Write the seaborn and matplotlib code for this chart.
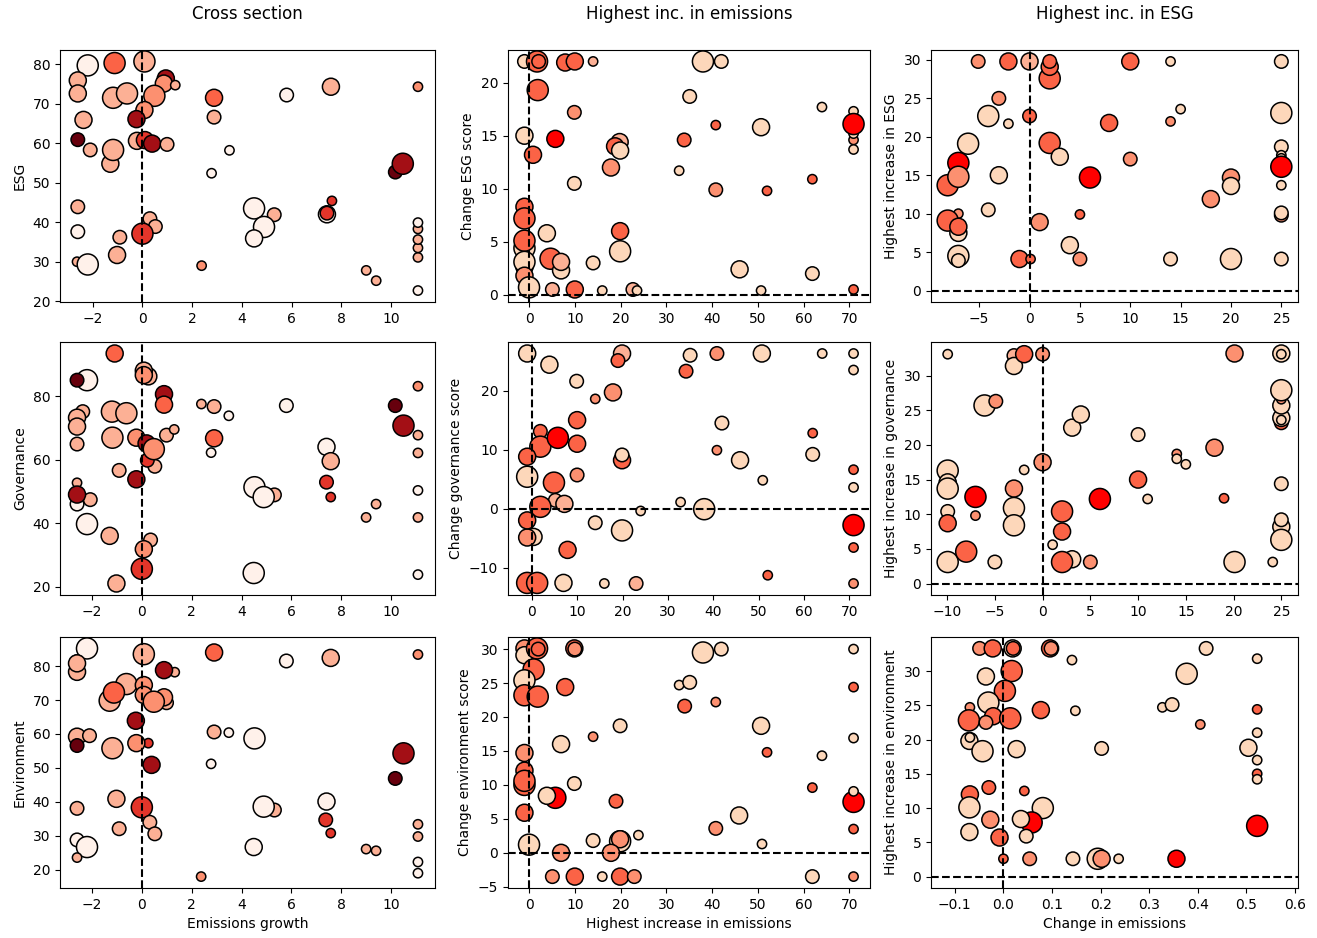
import matplotlib
matplotlib.use("Agg")
import matplotlib.pyplot as plt
from matplotlib.ticker import MultipleLocator
import pandas as pd
import seaborn as sns

COL_TITLES = ["Cross section", "Highest inc. in emissions", "Highest inc. in ESG"]
X_LABELS = ["Emissions growth", "Highest increase in emissions", "Change in emissions"]
Y_LABELS = [
    ["ESG", "Change ESG score", "Highest increase in ESG"],
    ["Governance", "Change governance score", "Highest increase in governance"],
    ["Environment", "Change environment score", "Highest increase in environment"],
]

# shade / size codes
SHADES = {"0": "#fff1ea", "1": "#fdd7ba", "2": "#fcb095", "3": "#fc9070", "4": "#fb6346",
          "5": "#e3352a", "6": "#ff0000", "7": "#a30f15", "8": "#67000d"}
SIZES = {"1": 45, "2": 95, "3": 150, "4": 230}

# --- cross section: ESG ---
cs_esg_x = [-2.2, -1.12, 0.08, -2.6, -2.6, -2.6, -1.18, -0.62, 0.94, 0.86, 1.32, 0.48, 0.08, -0.24,
            2.88, 2.88, -2.37, -2.6, -2.1, -1.29, -1.18, -0.22, 0.1, 0.39, 0.99, 3.5, 2.78, 5.8,
            7.58, 11.08, 10.17, 10.47, -2.6, -2.6, -2.63, -2.2, -0.91, -1.02, 0.3, 0.52, 0.0, 2.38,
            4.49, 5.3, 4.89, 4.49, 7.42, 7.42, 7.62, 9.0, 9.4, 11.08, 11.08, 11.08, 11.08, 11.08, 11.08]
cs_esg_y = [79.7, 80.3, 80.7, 75.2, 75.9, 72.6, 71.5, 72.6, 76.4, 75.1, 74.7, 72.0, 68.4, 66.1,
            71.5, 66.6, 65.9, 60.9, 58.3, 54.8, 58.3, 60.6, 60.8, 59.9, 59.7, 58.2, 52.4, 72.2,
            74.3, 74.3, 52.7, 54.8, 43.9, 37.6, 30.0, 29.3, 36.2, 31.7, 40.9, 38.9, 37.1, 29.0,
            43.5, 41.9, 38.8, 35.9, 42.0, 42.3, 45.4, 27.8, 25.2, 31.1, 33.5, 35.6, 38.3, 39.9, 22.7]
cs_esg_size = [4, 4, 4, 2, 3, 3, 4, 4, 3, 3, 1, 4, 3, 3,
               3, 2, 3, 2, 2, 3, 4, 3, 3, 3, 2, 1, 1, 2,
               3, 1, 2, 4, 2, 2, 1, 4, 2, 3, 2, 2, 4, 1,
               4, 2, 4, 3, 3, 2, 1, 1, 1, 1, 1, 1, 1, 1, 1]
cs_esg_shade = [0, 4, 2, 7, 2, 2, 2, 2, 7, 3, 2, 3, 3, 7,
                4, 2, 2, 8, 2, 2, 2, 2, 5, 7, 2, 0, 0, 0,
                2, 3, 8, 7, 2, 0, 2, 0, 2, 2, 2, 2, 5, 3,
                0, 2, 0, 0, 0, 5, 5, 2, 2, 2, 2, 2, 2, 0, 0]

# --- cross section: Governance ---
cs_gov_x = [-1.09, -2.2, -2.6, 0.26, 0.08, 0.08, 0.89, 0.89, -2.37, -2.6, -2.6, -2.6, -1.2, -0.62,
            -1.18, -0.22, 0.99, 1.3, 0.19, 0.52, 0.22, 0.48, 2.39, 2.9, 3.49, 2.9, 2.78, 5.8,
            7.41, 7.58, 7.41, 7.58, 10.17, 10.5, 11.08, 11.08, 11.08, 11.08, 11.08, 11.08,
            -2.6, -2.6, -2.07, -2.6, -2.2, -1.29, -0.91, -0.22, -1.02, 0.35, 0.08, 0.0,
            5.32, 4.52, 4.89, 4.49, 9.0, 9.4]
cs_gov_y = [93.5, 85.1, 85.1, 86.3, 88.1, 86.7, 80.7, 77.4, 75.2, 73.3, 70.5, 65.0, 75.2, 74.7,
            67.0, 67.0, 67.8, 69.6, 65.2, 58.0, 59.9, 63.4, 77.6, 76.8, 73.9, 66.8, 62.3, 77.1,
            64.1, 59.6, 53.0, 48.3, 77.1, 70.8, 83.2, 67.8, 62.2, 50.4, 41.9, 23.9,
            52.8, 46.1, 47.5, 49.1, 39.8, 36.1, 56.7, 53.9, 21.1, 34.8, 31.9, 25.7,
            49.0, 51.4, 48.3, 24.4, 41.9, 46.1]
cs_gov_size = [3, 4, 2, 3, 3, 3, 3, 3, 2, 3, 3, 2, 4, 4,
               4, 3, 2, 1, 3, 2, 2, 4, 1, 2, 1, 3, 1, 2,
               3, 3, 2, 1, 2, 4, 1, 1, 1, 1, 1, 1,
               1, 2, 2, 3, 4, 3, 2, 3, 3, 2, 3, 4,
               2, 4, 4, 4, 1, 1]
cs_gov_shade = [4, 0, 8, 2, 2, 3, 7, 4, 2, 2, 2, 2, 2, 2,
                2, 3, 2, 2, 7, 2, 5, 3, 2, 2, 0, 4, 0, 0,
                0, 2, 5, 5, 8, 7, 3, 2, 2, 0, 2, 0,
                2, 0, 2, 7, 0, 2, 2, 7, 2, 2, 3, 5,
                2, 0, 0, 0, 2, 2]

# --- cross section: Environment ---
cs_env_x = [-2.2, -2.6, -2.6, -2.6, 0.08, 2.9, 5.8, 7.58, 11.08, 1.32, 0.89, -0.62, -1.29, -1.12,
            0.99, 0.89, 0.08, 0.08, 0.48, -0.24, -2.6, -2.1, -2.6, -1.18, 0.26, -0.22, 0.39,
            2.9, 3.49, 2.78, 4.52, 10.5, 10.17, -1.02, 0.0, -2.6, -0.91, 0.32, 0.52, -2.6, -2.2,
            -2.6, 5.32, 4.89, 4.49, 2.38, 7.41, 7.38, 7.58, 9.0, 9.4, 11.08, 11.08, 11.08, 11.08]
cs_env_y = [85.2, 81.3, 78.3, 80.8, 83.5, 84.0, 81.5, 82.4, 83.4, 78.2, 78.8, 74.7, 69.8, 72.2,
            69.2, 70.8, 74.4, 71.5, 69.5, 63.9, 59.2, 59.5, 56.6, 55.8, 57.3, 57.3, 50.9,
            60.6, 60.4, 51.2, 58.7, 54.3, 46.9, 40.9, 38.4, 38.1, 32.1, 34.0, 30.6, 28.8, 26.7,
            23.6, 37.6, 38.6, 26.7, 18.0, 40.1, 34.7, 30.8, 26.1, 25.6, 33.4, 29.8, 22.3, 19.0]
cs_env_size = [4, 2, 3, 3, 4, 3, 2, 3, 1, 1, 3, 4, 4, 4,
               2, 3, 3, 3, 4, 3, 3, 2, 2, 4, 1, 3, 3,
               2, 1, 1, 4, 4, 2, 3, 4, 2, 2, 2, 2, 2, 4,
               1, 2, 4, 3, 1, 3, 2, 1, 1, 1, 1, 1, 1, 1]
cs_env_shade = [0, 8, 2, 2, 2, 4, 0, 2, 3, 2, 7, 2, 2, 4,
                2, 3, 3, 3, 3, 7, 2, 2, 8, 2, 5, 3, 7,
                2, 0, 0, 0, 7, 8, 2, 5, 2, 2, 2, 2, 0, 0,
                2, 2, 0, 0, 3, 0, 5, 5, 2, 2, 2, 2, 0, 0]

# --- highest increase in emissions: change ESG ---
he_esg_x = [-1, 1.75, 2.1, 7.9, 10, 14, 38, 42, 1.9, 35.1, 9.9, 64, -1, 5.75, 0.87, 19.8, 18.8,
            19.9, 17.9, 9.9, 33.9, 32.8, 40.8, 40.8, 50.7, 52, 61.9, 70.9, 70.9, 70.9, 70.9, 70.9,
            -1, -1, -1, -1, -1, -1, -1, 0, 3.9, 4.7, 7, 7, 5.1, 10, 14, 16, 22.7, 23.6, 19.9,
            19.9, 46, 50.7, 61.9, 70.9]
he_esg_y = [22, 22, 22, 21.9, 22, 22, 22, 22, 19.3, 18.7, 17.2, 17.7, 15, 14.7, 13.2, 14.4, 14.0,
            13.6, 12.0, 10.5, 14.6, 11.7, 16.0, 9.9, 15.8, 9.8, 10.9, 17.3, 14.6, 13.7, 15.2, 16.1,
            8.3, 7.2, 4.4, 5.1, 2.6, 3.1, 1.8, 0.7, 5.8, 3.4, 2.3, 3.1, 0.5, 0.5, 3.0, 0.4, 0.5, 0.4,
            6.0, 4.1, 2.4, 0.4, 2.0, 0.5]
he_esg_size = [2, 4, 2, 3, 3, 1, 4, 2, 4, 2, 2, 1, 3, 3, 3, 3, 3,
               3, 3, 2, 2, 1, 1, 2, 3, 1, 1, 1, 1, 1, 1, 4,
               3, 4, 4, 4, 3, 4, 3, 4, 3, 4, 3, 3, 2, 3, 2, 1, 2, 1,
               3, 4, 3, 1, 2, 1]
he_esg_shade = [1, 4, 4, 4, 4, 2, 1, 1, 4, 1, 3, 1, 1, 6, 4, 2, 4,
                1, 3, 1, 4, 1, 4, 3, 1, 4, 4, 1, 3, 1, 1, 6,
                4, 4, 1, 4, 4, 1, 3, 1, 1, 4, 1, 2, 2, 4, 1, 1, 2, 1,
                4, 1, 1, 1, 1, 4]

# --- highest increase in emissions: change governance ---
he_gov_x = [-1, 3.9, 9.9, 14, 17.9, 19.9, 19, 34.9, 34, 40.8, 50.7, 64, 70.9, 70.9, 1.9, 1.9,
            5.75, 10, 10, -1, 41.9, 40.8, 19.9, 19.9, 45.9, 61.9, 61.9, -1, 4.9, 10, 50.9, 70.9,
            70.9, 5.2, 7.2, 1.9, 24, 32.8, 38, 0.4, -1, -1, 14, 19.9, 70.9, 7.9, 70.9, 52,
            -1.6, -1, 1.2, 7, 16, 23, 70.9]
he_gov_y = [26.3, 24.4, 21.6, 18.6, 19.7, 26.3, 25.1, 26.0, 23.3, 26.3, 26.3, 26.3, 26.3, 23.5,
            13.1, 10.5, 12.0, 15.0, 11.0, 8.8, 14.5, 9.9, 8.2, 9.1, 8.2, 12.8, 9.2, 5.4, 4.4, 5.7,
            4.8, 6.6, 3.6, 1.4, 0.8, 0.3, -0.4, 1.1, -0.1, -4.8, -4.9, -2.0, -2.4, -3.7, -2.8,
            -7.0, -6.6, -11.3, -12.6, -12.6, -12.6, -12.6, -12.7, -12.7, -12.7]
he_gov_size = [3, 3, 2, 1, 3, 3, 2, 2, 2, 2, 3, 1, 1, 1, 2, 4,
               4, 3, 3, 3, 2, 1, 3, 2, 3, 1, 2, 4, 4, 2, 1, 1,
               1, 2, 3, 4, 1, 1, 4, 3, 3, 3, 2, 4, 4, 3, 1, 1,
               2, 4, 4, 3, 1, 2, 1]
he_gov_shade = [1, 1, 1, 3, 3, 2, 4, 1, 4, 3, 1, 1, 1, 1, 4, 4,
                6, 4, 4, 4, 1, 3, 4, 1, 1, 4, 1, 1, 4, 3, 1, 4,
                1, 2, 2, 4, 1, 1, 1, 1, 3, 4, 1, 1, 6, 4, 4, 4,
                4, 4, 4, 1, 1, 2, 3]

# --- highest increase in emissions: change environment ---
he_env_x = [-1, -1, 1.75, 2.0, 9.9, 10, 38, 42, 70.9, 1, -1, -1, 1.9, 7.9, 32.8, 35.1, 34, 40.8,
            70.9, 19.9, 50.7, 14, 7, 70.9, 52, 64, -1, -1, -1, -1, 9.9, 61.9, 5.75, 3.9, 19,
            70.9, 70.9, -1, 45.9, 40.8, 70.9, 23.9, 14, 19.9, 19.9, 0, 50.9, 7, 17.9,
            5.1, 10, 16, 19.9, 23, 61.9, 70.9]
he_env_y = [30.1, 29.1, 30.1, 30.0, 30.1, 30.0, 29.5, 30.0, 30.0, 27.0, 25.4, 23.2, 23.0, 24.4,
            24.7, 25.1, 21.6, 22.2, 24.4, 18.7, 18.7, 17.1, 16.0, 16.9, 14.8, 14.3, 14.7, 12.1,
            10.0, 10.6, 10.2, 9.6, 8.1, 8.4, 7.6, 7.5, 9.05, 5.9, 5.5, 3.6, 3.5, 2.6, 1.8, 1.7,
            2.0, 1.2, 1.3, 0.0, 0.0, -3.5, -3.5, -3.5, -3.5, -3.5, -3.5, -3.5]
he_env_size = [3, 3, 4, 2, 3, 2, 4, 2, 1, 4, 4, 4, 4, 3, 1, 2, 2, 1,
               1, 2, 3, 1, 3, 1, 1, 1, 3, 3, 4, 4, 2, 1, 4, 3, 2,
               4, 1, 3, 3, 2, 1, 1, 2, 4, 3, 4, 1, 3, 3,
               2, 3, 1, 3, 2, 2, 1]
he_env_shade = [3, 1, 4, 4, 4, 3, 1, 1, 1, 4, 1, 4, 4, 4, 1, 1, 4, 3,
                4, 1, 1, 3, 1, 1, 4, 1, 3, 4, 4, 4, 1, 4, 6, 1, 4,
                6, 1, 4, 1, 3, 4, 1, 1, 1, 3, 1, 1, 3, 3,
                3, 4, 1, 4, 3, 1, 3]

# --- highest increase in ESG: ESG ---
hs_esg_x = [-5.1, -2.1, 0, 2, 2, 2, 10, 14, 25, -3.05, -4.1, -2.1, 0, 15, 14, 7.9, 25, -6.1, 2,
            3, 10, 25, 25, 25, -8.13, -7.07, -7.07, -3.05, 6, 25, 25, 20, 20, 18, -4.1, -7.07,
            -8.13, -7.07, -7.07, 1, 5, 25, 25, -7.07, -7.07, -1, 0.1, 4, 5, 14, 20, 25]
hs_esg_y = [29.8, 29.8, 29.8, 27.6, 29.1, 29.8, 29.8, 29.8, 29.8, 25.0, 22.7, 21.7, 22.7, 23.6,
            22.0, 21.8, 23.1, 19.1, 19.2, 17.4, 17.1, 18.7, 17.6, 17.2, 13.7, 16.6, 14.8, 15.0,
            14.7, 16.1, 13.7, 14.7, 13.6, 11.9, 10.5, 10.0, 9.1, 7.5, 8.3, 8.9, 9.9, 9.8, 10.1,
            4.5, 3.9, 4.1, 4.1, 5.9, 4.1, 4.1, 4.1, 4.1]
hs_esg_size = [2, 3, 3, 4, 3, 2, 3, 1, 2, 2, 4, 1, 2, 1, 1, 3, 4, 4, 4,
               3, 2, 2, 1, 1, 4, 4, 4, 3, 4, 4, 1, 3, 3, 3, 2, 1,
               4, 3, 3, 3, 1, 2, 2, 4, 2, 3, 1, 3, 2, 2, 4, 2]
hs_esg_shade = [3, 4, 2, 4, 4, 4, 4, 1, 1, 3, 1, 1, 4, 1, 3, 4, 1, 1, 4,
                1, 3, 1, 1, 1, 4, 6, 3, 1, 6, 6, 1, 3, 1, 3, 1, 3,
                4, 1, 4, 3, 4, 3, 1, 1, 1, 4, 4, 1, 3, 1, 1, 1]

# --- highest increase in ESG: governance ---
hs_gov_x = [-9.94, -3, -3, -1.93, 0, 20.1, 25, 25, -6.08, -4.9, 3.1, 4, 10, 25, 25, 25, 25, 25,
            25, 18, 14.05, 14.05, 15, 0, -1.93, -9.94, -9.94, -9.94, -9.94, -9.94, -9.94, -7.03,
            -7.03, -3, -3, -3, -8, -5, 6, 10, 11, 19, 25, 2.04, 2.04, 1.05, 3.1, 2.04, 5, 20.1,
            24.1, 25, 25, 25]
hs_gov_y = [33.1, 32.9, 31.4, 33.1, 33.1, 33.2, 33.2, 33.1, 25.7, 26.3, 22.5, 24.4, 21.5, 23.2,
            23.9, 23.6, 25.7, 26.6, 27.9, 19.6, 18.7, 18.0, 17.2, 17.5, 16.4, 16.3, 14.6, 13.7,
            10.4, 8.7, 3.1, 12.5, 9.8, 13.7, 10.9, 8.4, 4.6, 3.1, 12.2, 15.0, 12.2, 12.3, 14.4,
            10.4, 7.5, 5.6, 3.5, 3.1, 3.1, 3.1, 3.1, 8.2, 9.2, 6.3]
hs_gov_size = [1, 2, 3, 3, 2, 3, 3, 1, 4, 2, 3, 3, 2, 2, 3, 1, 3, 1,
               4, 3, 1, 1, 1, 3, 1, 4, 3, 4, 2, 3, 4, 4,
               1, 3, 4, 4, 4, 2, 4, 3, 1, 1, 2, 4, 3, 1, 3, 4, 2, 4,
               1, 3, 2, 4]
hs_gov_shade = [1, 2, 1, 4, 3, 3, 1, 1, 1, 3, 1, 1, 1, 4, 1, 1, 1, 3,
                1, 3, 3, 1, 1, 3, 1, 1, 1, 1, 1, 4, 1, 6,
                3, 3, 1, 1, 4, 1, 6, 4, 1, 4, 1, 4, 4, 1, 1, 4, 3, 1,
                1, 1, 1, 1]

# --- highest increase in ESG: environment vs change in emissions ---
hs_env_x = [-0.049, -0.022, 0.019, 0.02, 0.096, 0.098, 0.417, 0.141, 0.522, -0.036, 0.017, 0.003,
            0.377, -0.069, -0.031, -0.021, -0.071, -0.036, 0.014, 0.077, 0.148, 0.327, 0.347, 0.405,
            0.522, 0.522, -0.07, -0.069, -0.043, 0.027, 0.202, 0.504, 0.522, 0.522, 0.522, -0.03,
            -0.069, 0.043, -0.07, 0.081, -0.027, 0.058, 0.036, -0.07, -0.008, 0.047, 0.522, 0.0,
            0.054, 0.143, 0.194, 0.202, 0.237, 0.356]
hs_env_y = [33.3, 33.3, 33.3, 33.3, 33.3, 33.3, 33.3, 31.6, 31.8, 29.2, 30.0, 27.1, 29.6, 24.7,
            25.4, 23.4, 22.8, 22.5, 23.1, 24.3, 24.2, 24.7, 25.1, 22.2, 24.4, 21.0, 19.8, 20.3,
            18.3, 18.6, 18.7, 18.8, 17.0, 15.0, 14.2, 13.0, 12.0, 12.5, 10.1, 10.0, 8.3, 7.9,
            8.4, 6.5, 5.7, 5.9, 7.4, 2.6, 2.6, 2.6, 2.6, 2.6, 2.6, 2.6]
hs_env_size = [2, 3, 3, 2, 3, 2, 2, 1, 1, 3, 4, 4, 4, 1, 4, 3, 4, 2, 4, 3, 1, 1, 2, 1,
               1, 1, 3, 1, 4, 3, 2, 3, 1, 1, 1, 2, 3, 1, 4, 4, 3, 4, 3, 3, 3, 2, 4, 1,
               2, 2, 4, 3, 1, 3]
hs_env_shade = [3, 4, 1, 4, 4, 3, 1, 1, 1, 1, 4, 4, 1, 3, 1, 4, 4, 3, 4, 4, 1, 1, 1, 3,
                4, 1, 1, 1, 1, 1, 1, 1, 1, 4, 1, 4, 4, 4, 1, 1, 3, 6, 1, 1, 4, 1, 6, 4,
                3, 1, 1, 3, 1, 6]

PANELS = [
    [(cs_esg_x, cs_esg_y, cs_esg_size, cs_esg_shade),
     (he_esg_x, he_esg_y, he_esg_size, he_esg_shade),
     (hs_esg_x, hs_esg_y, hs_esg_size, hs_esg_shade)],
    [(cs_gov_x, cs_gov_y, cs_gov_size, cs_gov_shade),
     (he_gov_x, he_gov_y, he_gov_size, he_gov_shade),
     (hs_gov_x, hs_gov_y, hs_gov_size, hs_gov_shade)],
    [(cs_env_x, cs_env_y, cs_env_size, cs_env_shade),
     (he_env_x, he_env_y, he_env_size, he_env_shade),
     (hs_env_x, hs_env_y, hs_env_size, hs_env_shade)],
]

# y tick spacing where the automatic choice differs from the picture
Y_STEPS = {(1, 0): 20, (1, 1): 10}

# axes boxes in pixels (left, right) / (top, bottom)
W, H = 1317, 938
COL_PX = [(60, 435), (508, 870), (931, 1298)]
ROW_PX = [(50, 302), (342, 595), (637, 888)]


def panel_frame(x, y, size, shade):
    return pd.DataFrame({
        "x": x,
        "y": y,
        "size": [str(v) for v in size],
        "shade": [str(v) for v in shade],
    })


fig, axes = plt.subplots(3, 3, figsize=(W / 100, H / 100), dpi=100)

for r in range(3):
    for c in range(3):
        ax = axes[r, c]
        (l, rt), (t, b) = COL_PX[c], ROW_PX[r]
        ax.set_position([l / W, 1 - b / H, (rt - l) / W, (b - t) / H])
        df = panel_frame(*PANELS[r][c])
        sns.scatterplot(data=df, x="x", y="y", hue="shade", size="size",
                        palette=SHADES, sizes=SIZES, edgecolor="black",
                        linewidth=1.1, legend=False, ax=ax, zorder=2)
        ax.axvline(0, color="black", linestyle="--", linewidth=1.5, zorder=3)
        if c > 0:
            ax.axhline(0, color="black", linestyle="--", linewidth=1.5, zorder=3)
        if r == 2 and c == 2:
            ax.set_xlim(-0.149, 0.606)
        if (r, c) in Y_STEPS:
            ax.yaxis.set_major_locator(MultipleLocator(Y_STEPS[(r, c)]))
        ax.set_ylabel(Y_LABELS[r][c], fontsize=10)
        ax.set_xlabel(X_LABELS[c] if r == 2 else "", fontsize=10)
        if r == 0:
            ax.set_title(COL_TITLES[c], fontsize=12, pad=22)

fig.savefig("out.png", dpi=100)
